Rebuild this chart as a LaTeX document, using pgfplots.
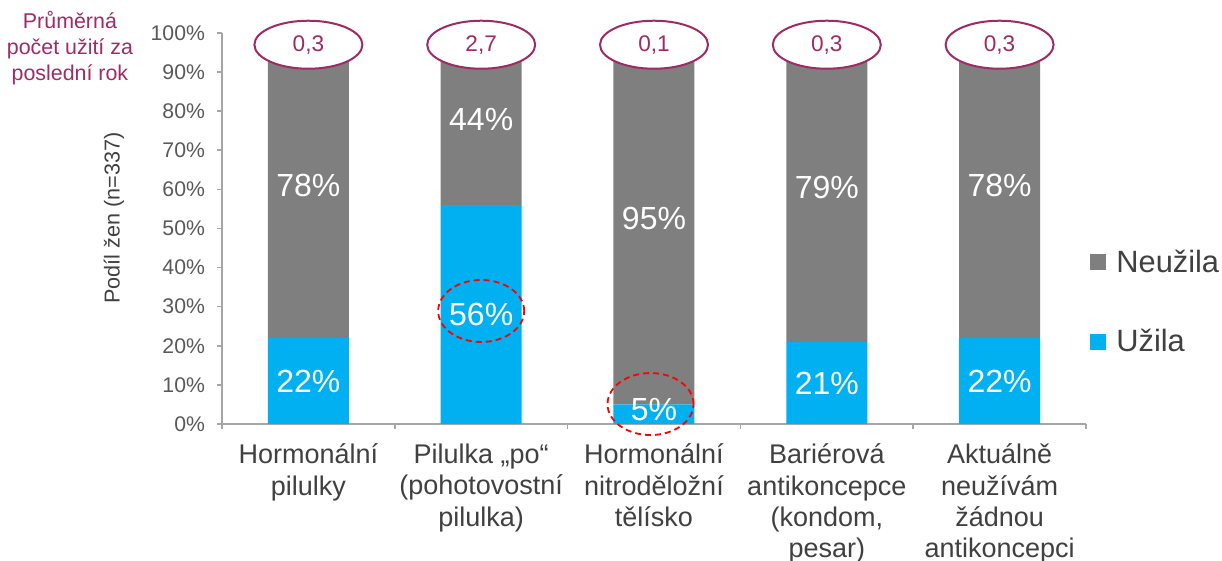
\documentclass[border=0pt]{standalone}
\usepackage{fontspec}
\setmainfont{Liberation Sans}
\usepackage{pgfplots}
\pgfplotsset{compat=1.18}

\definecolor{uzila}{HTML}{00B0F0}
\definecolor{neuzila}{HTML}{7F7F7F}
\definecolor{osa}{HTML}{A6A6A6}
\definecolor{popis}{HTML}{404040}
\definecolor{cisla}{HTML}{595959}
\definecolor{fialova}{HTML}{9E2B65}

\tikzset{
  prumer/.style={draw=fialova, line width=1pt, fill=white},
  prumertext/.style={text=fialova, font=\fontsize{11.3}{13}\selectfont},
  hodnota/.style={text=white, font=\fontsize{16}{18}\selectfont},
  zvyr/.style={draw=red, dash pattern=on 3pt off 2pt, line width=0.9pt},
}

\begin{document}
\begin{tikzpicture}
  \begin{axis}[
      scale only axis,
      width=432pt, height=195.5pt,
      ybar stacked,
      bar width=40.5pt,
      xmin=-0.5, xmax=4.5,
      ymin=0, ymax=100,
      clip=false,
      axis lines*=left,
      axis line style={draw=osa, line width=0.8pt},
      ytick={0,10,...,100},
      yticklabel={\pgfmathprintnumber{\tick}\%},
      /pgf/number format/assume math mode=true,
      yticklabel style={font=\fontsize{10.6}{12}\selectfont, text=cisla, xshift=-2.5pt},
      tick style={draw=osa, line width=0.8pt},
      tick align=outside,
      major tick length=2.5pt,
      minor tick length=2.5pt,
      xtick={0,1,2,3,4},
      xticklabels={{Hormonální\\pilulky},
                   {Pilulka „po“\\(pohotovostní\\pilulka)},
                   {Hormonální\\nitroděložní\\tělísko},
                   {Bariérová\\antikoncepce\\(kondom,\\pesar)},
                   {Aktuálně\\neužívám\\žádnou\\antikoncepci}},
      xticklabel style={align=center, font=\fontsize{13.5}{15.6}\selectfont,
                        text=popis, yshift=-4pt},
      major x tick style={draw=none},
      minor xtick={-0.5,0.5,1.5,2.5,3.5,4.5},
      ylabel={Podíl žen (n=337)},
      ylabel style={at={(rel axis cs:0,0.527)}, anchor=center, yshift=54pt,
                    font=\fontsize{10.8}{12}\selectfont, text=popis},
      legend style={draw=none, fill=none, at={(rel axis cs:1,0.312)}, anchor=west,
                    xshift=2pt, font=\fontsize{15.4}{17}\selectfont, text=popis,
                    row sep=23pt, inner sep=0pt},
      legend cell align=left,
      reverse legend,
      legend image code/.code={\fill[#1] (0pt,-4pt) rectangle (8pt,4pt); \path (11pt,0pt);},
    ]
    \addplot[fill=uzila, draw=none] coordinates {(0,22) (1,56) (2,5) (3,21) (4,22)};
    \addplot[fill=neuzila, draw=none] coordinates {(0,78) (1,44) (2,95) (3,79) (4,78)};
    \legend{Užila, Neužila}

    \coordinate (ll) at (rel axis cs:0,0);
    \coordinate (ur) at (rel axis cs:1,1);

    \node[align=center, text=fialova, font=\fontsize{10.7}{13}\selectfont]
      at (rel axis cs:-0.176,0.962) {Průměrná\\počet užití za\\poslední rok};
  \end{axis}

  % popisky nad sloupci (kategorie 0..4, y v procentech)
  \begin{scope}[shift={(ll)}, xshift=43.2pt, x=86.4pt, y=1.955pt]
    \node[hodnota] at (0,11) {22\%};
    \node[hodnota] at (1,28) {56\%};
    \node[hodnota] at (2,3.6) {5\%};
    \node[hodnota] at (3,10.5) {21\%};
    \node[hodnota] at (4,11) {22\%};
    \node[hodnota] at (0,61) {78\%};
    \node[hodnota] at (1,78) {44\%};
    \node[hodnota] at (2,52.5) {95\%};
    \node[hodnota] at (3,60.5) {79\%};
    \node[hodnota] at (4,61) {78\%};

    \draw[zvyr] (1,28.9) ellipse [x radius=21.5pt, y radius=15.5pt];
    \draw[zvyr] (1.98,5.1) ellipse [x radius=21.5pt, y radius=15.5pt];

    \draw[prumer] (0,97) ellipse [x radius=27pt, y radius=12pt];
    \draw[prumer] (1,97) ellipse [x radius=27pt, y radius=12pt];
    \draw[prumer] (2,97) ellipse [x radius=27pt, y radius=12pt];
    \draw[prumer] (3,97) ellipse [x radius=27pt, y radius=12pt];
    \draw[prumer] (4,97) ellipse [x radius=27pt, y radius=12pt];
    \node[prumertext] at (0,97) {0,3};
    \node[prumertext] at (1,97) {2,7};
    \node[prumertext] at (2,97) {0,1};
    \node[prumertext] at (3,97) {0,3};
    \node[prumertext] at (4,97) {0,3};
  \end{scope}

  \pgfresetboundingbox
  \useasboundingbox ([shift={(-111pt,-68.5pt)}]ll) rectangle ([shift={(68pt,16.5pt)}]ur);
\end{tikzpicture}
\end{document}
